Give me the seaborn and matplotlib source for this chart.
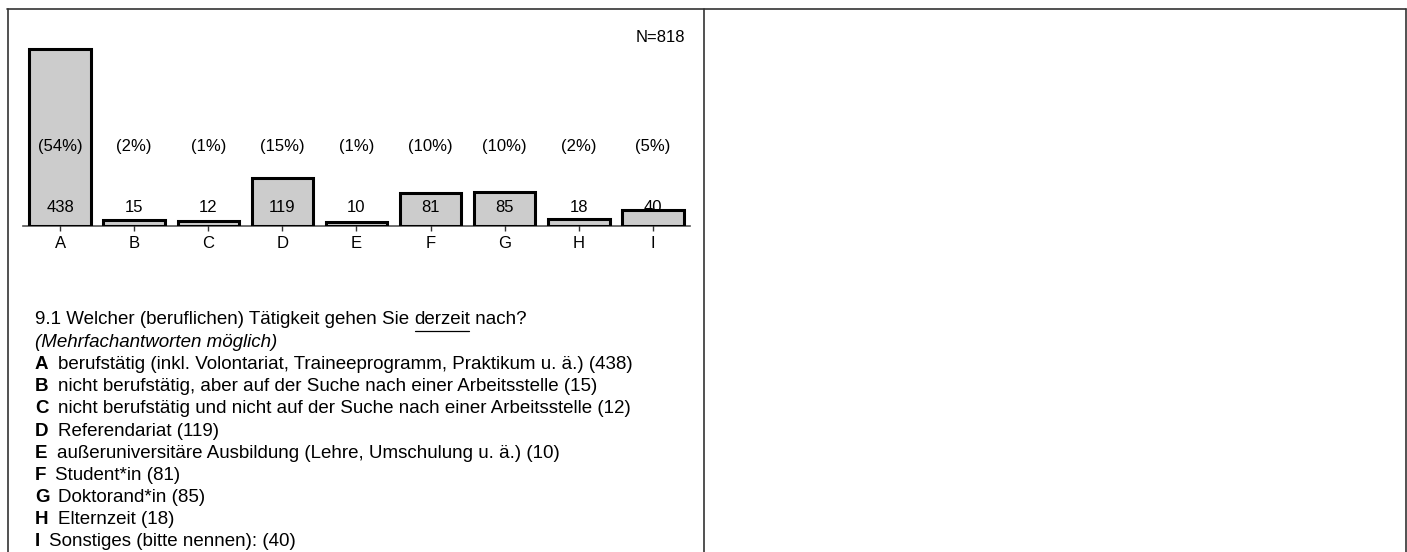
import matplotlib
matplotlib.use("Agg")
import matplotlib.pyplot as plt
from matplotlib.lines import Line2D
from matplotlib import transforms
import seaborn as sns
import pandas as pd

# ---- data ----
categories = ["A", "B", "C", "D", "E", "F", "G", "H", "I"]
counts = [438, 15, 12, 119, 10, 81, 85, 18, 40]
percents = [54, 2, 1, 15, 1, 10, 10, 2, 5]
n_total = 818
question_pre = "9.1 Welcher (beruflichen) Tätigkeit gehen Sie "
question_under = "derzeit"
question_post = " nach?"
question_note = "(Mehrfachantworten möglich)"
answer_texts = [
    "berufstätig (inkl. Volontariat, Traineeprogramm, Praktikum u. ä.)",
    "nicht berufstätig, aber auf der Suche nach einer Arbeitsstelle",
    "nicht berufstätig und nicht auf der Suche nach einer Arbeitsstelle",
    "Referendariat",
    "außeruniversitäre Ausbildung (Lehre, Umschulung u. ä.)",
    "Student*in",
    "Doktorand*in",
    "Elternzeit",
    "Sonstiges (bitte nennen):",
]

df = pd.DataFrame({"cat": categories, "n": counts})

sns.set_style("white")
plt.rcParams["font.family"] = ["Liberation Sans", "DejaVu Sans"]
plt.rcParams["text.color"] = "black"
plt.rcParams["xtick.color"] = "black"

W, H = 1407, 552
fig = plt.figure(figsize=(W / 100, H / 100), dpi=100)

def fx(px):
    return px / W

def fy(py):
    return (H - py) / H

# axes: x from 23 to 690 px, baseline at 226 px, top at 30 px
ax_left, ax_right, ax_base, ax_top = 23, 690, 226, 30
ax = fig.add_axes([fx(ax_left), fy(ax_base), fx(ax_right - ax_left), (ax_base - ax_top) / H])

sns.barplot(data=df, x="cat", y="n", color="#cccccc", edgecolor="black",
            linewidth=2.2, width=0.83, saturation=1, ax=ax)

ax.set_xlim(-0.5, len(categories) - 0.5)
ymax = max(counts) * (ax_base - ax_top) / (ax_base - 49)
ax.set_ylim(0, ymax)
ax.set_xlabel("")
ax.set_ylabel("")
ax.set_yticks([])
for s in ["top", "right", "left"]:
    ax.spines[s].set_visible(False)
ax.spines["bottom"].set_color("#555555")
ax.spines["bottom"].set_linewidth(1.2)
ax.spines["bottom"].set_zorder(0.5)
ax.tick_params(axis="x", direction="inout", length=6.5, width=1.0, color="#333333",
               labelsize=12, labelcolor="black", pad=4, bottom=True)
ax.set_facecolor("none")

trans = transforms.blended_transform_factory(ax.transData, ax.transAxes)
pct_y = (ax_base - 147) / (ax_base - ax_top)
cnt_y = (ax_base - 207) / (ax_base - ax_top)
for i, (c, p) in enumerate(zip(counts, percents)):
    ax.text(i, pct_y, f"({p}%)", transform=trans, ha="center", va="center", fontsize=12)
    ax.text(i, cnt_y, f"{c}", transform=trans, ha="center", va="center", fontsize=12)

ax.text((685 - ax_left) / (ax_right - ax_left), (ax_base - 38) / (ax_base - ax_top),
        f"N={n_total}", transform=ax.transAxes, ha="right", va="center", fontsize=12)

# ---- question text ----
fs = 13.5
x0 = fx(35)
line_y0 = 320
step = 22.2

t1 = fig.text(x0, fy(line_y0), question_pre, fontsize=fs, va="center", ha="left")
t2 = fig.text(0, 0, question_under, fontsize=fs, va="center", ha="left")
t3 = fig.text(0, 0, question_post, fontsize=fs, va="center", ha="left")
fig.canvas.draw()
r = fig.canvas.get_renderer()
bb1 = t1.get_window_extent(r)
t2.set_position((bb1.x1 / W, fy(line_y0)))
fig.canvas.draw()
bb2 = t2.get_window_extent(r)
t3.set_position((bb2.x1 / W, fy(line_y0)))
ul_y = fy(331)
fig.add_artist(Line2D([bb2.x0 / W + fx(1), bb2.x1 / W - fx(1)], [ul_y, ul_y], transform=fig.transFigure,
                      color="black", lw=0.9))

fig.text(x0, fy(line_y0 + step), question_note, fontsize=fs, va="center", ha="left",
         style="italic")

letters = []
for i, (cat, txt, c) in enumerate(zip(categories, answer_texts, counts)):
    y = fy(line_y0 + step * (i + 2))
    lt = fig.text(x0, y, cat, fontsize=fs, fontweight="bold", va="center", ha="left")
    letters.append((lt, y, txt, c))
fig.canvas.draw()
for lt, y, txt, c in letters:
    bb = lt.get_window_extent(r)
    fig.text(bb.x1 / W + fx(9), y, f"{txt} ({c})", fontsize=fs, va="center", ha="left")

# ---- frame lines ----
fc = "#333333"
fig.add_artist(Line2D([fx(7), fx(1406)], [fy(8.5), fy(8.5)], transform=fig.transFigure, color=fc, lw=1.2))
for xp in (7.5, 704, 1405.5):
    fig.add_artist(Line2D([fx(xp), fx(xp)], [fy(8.5), 0], transform=fig.transFigure, color=fc, lw=1.2))

fig.savefig("out.png", dpi=100)
